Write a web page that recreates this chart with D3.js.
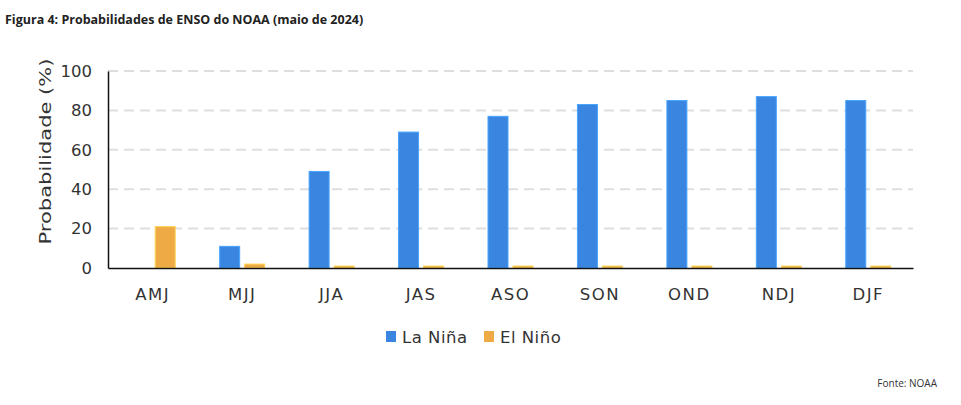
<!DOCTYPE html>
<html>
<head>
<meta charset="utf-8">
<script src="https://cdn.jsdelivr.net/npm/d3@7"></script>
<style>
body{margin:0;background:#fff;}
svg{display:block;}
</style>
</head>
<body>
<svg id="chart" width="961" height="405"></svg>
<script>
var categories=['AMJ','MJJ','JJA','JAS','ASO','SON','OND','NDJ','DJF'];
var laNina=[0,11,49,69,77,83,85,87,85];
var elNino=[21,2,1,1,1,1,1,1,1];
var yTicks=[0,20,40,60,80,100];
var seriesNames=['La Niña','El Niño'];
var seriesColors=['#3a85e0','#eeab45'];

var width=961, height=405;
var margin={top:71, right:48, bottom:137, left:108};
var axisFont='"DejaVu Sans", sans-serif';

var svg=d3.select('#chart');

// title
svg.append('text')
  .attr('x',5).attr('y',24)
  .style('font-family','"Open Sans", sans-serif')
  .style('font-weight','bold')
  .style('font-size','12.5px')
  .style('fill','#222')
  .text('Figura 4: Probabilidades de ENSO do NOAA (maio de 2024)');

var xScale=d3.scaleBand()
  .domain(categories)
  .range([margin.left, width-margin.right]);

var yScale=d3.scaleLinear()
  .domain([0,100])
  .range([height-margin.bottom, margin.top]);

var barW=20, gap=5;

// gridlines
svg.append('g').attr('class','grid')
  .selectAll('line')
  .data(yTicks.filter(d=>d>0))
  .join('line')
  .attr('x1',margin.left).attr('x2',width-margin.right)
  .attr('y1',d=>yScale(d)).attr('y2',d=>yScale(d))
  .style('stroke','#dedede')
  .style('stroke-width',2)
  .style('stroke-dasharray','10,6');

// bars
var data=categories.map((c,i)=>({cat:c, vals:[laNina[i],elNino[i]]}));
var groups=svg.append('g').attr('class','bars')
  .selectAll('g')
  .data(data)
  .join('g');

groups.selectAll('rect')
  .data(d=>d.vals.map((v,k)=>({cat:d.cat,v:v,k:k})).filter(e=>e.v>0))
  .join('rect')
  .attr('x',e=>xScale(e.cat)+xScale.bandwidth()/2 + (e.k==0 ? -barW-gap/2 : gap/2))
  .attr('y',e=>yScale(e.v))
  .attr('width',barW)
  .attr('height',e=>yScale(0)-yScale(e.v))
  .style('fill',e=>seriesColors[e.k])
  .style('stroke',e=>d3.color(seriesColors[e.k]).brighter(0.6))
  .style('stroke-width',1);

// axes
var xAxis=d3.axisBottom(xScale).tickSize(0).tickPadding(20);
var yAxis=d3.axisLeft(yScale).tickValues(yTicks).tickSize(0).tickPadding(16);

var gx=svg.append('g').attr('class','x-axis')
  .attr('transform',`translate(0,${height-margin.bottom})`)
  .call(xAxis);
gx.select('.domain').style('stroke','#111').style('stroke-width',1.5);
gx.selectAll('text')
  .style('font-family',axisFont)
  .style('font-size','16.5px')
  .style('letter-spacing','1.5px')
  .style('fill','#333');

var gy=svg.append('g').attr('class','y-axis')
  .attr('transform',`translate(${margin.left},0)`)
  .call(yAxis);
gy.select('.domain').style('stroke','#111').style('stroke-width',1.5);
gy.selectAll('text')
  .style('font-family',axisFont)
  .style('font-size','16.5px')
  .style('fill','#333');

// y label
svg.append('text')
  .attr('transform',`translate(51,${(yScale(0)+yScale(100))/2-18}) rotate(-90)`)
  .attr('text-anchor','middle')
  .attr('textLength',186)
  .attr('lengthAdjust','spacingAndGlyphs')
  .style('font-family',axisFont)
  .style('font-size','16.5px')
  .style('fill','#333')
  .text('Probabilidade (%)');

// legend
var legend=svg.append('g').attr('class','legend');
var legendX=[386,484];
var lg=legend.selectAll('g')
  .data(seriesNames)
  .join('g')
  .attr('transform',(d,i)=>`translate(${legendX[i]},331)`);
lg.append('rect')
  .attr('width',10).attr('height',11)
  .style('fill',(d,i)=>seriesColors[i]);
lg.append('text')
  .attr('x',16).attr('y',6).attr('dy','0.35em')
  .style('font-family',axisFont)
  .style('font-size','16.5px')
  .style('letter-spacing','0.5px')
  .style('fill','#333')
  .text(d=>d);

// source
svg.append('text')
  .attr('x',937).attr('y',387)
  .attr('text-anchor','end')
  .style('font-family','"Open Sans", sans-serif')
  .style('font-size','10px')
  .style('fill','#333')
  .text('Fonte: NOAA');
</script>
</body>
</html>
